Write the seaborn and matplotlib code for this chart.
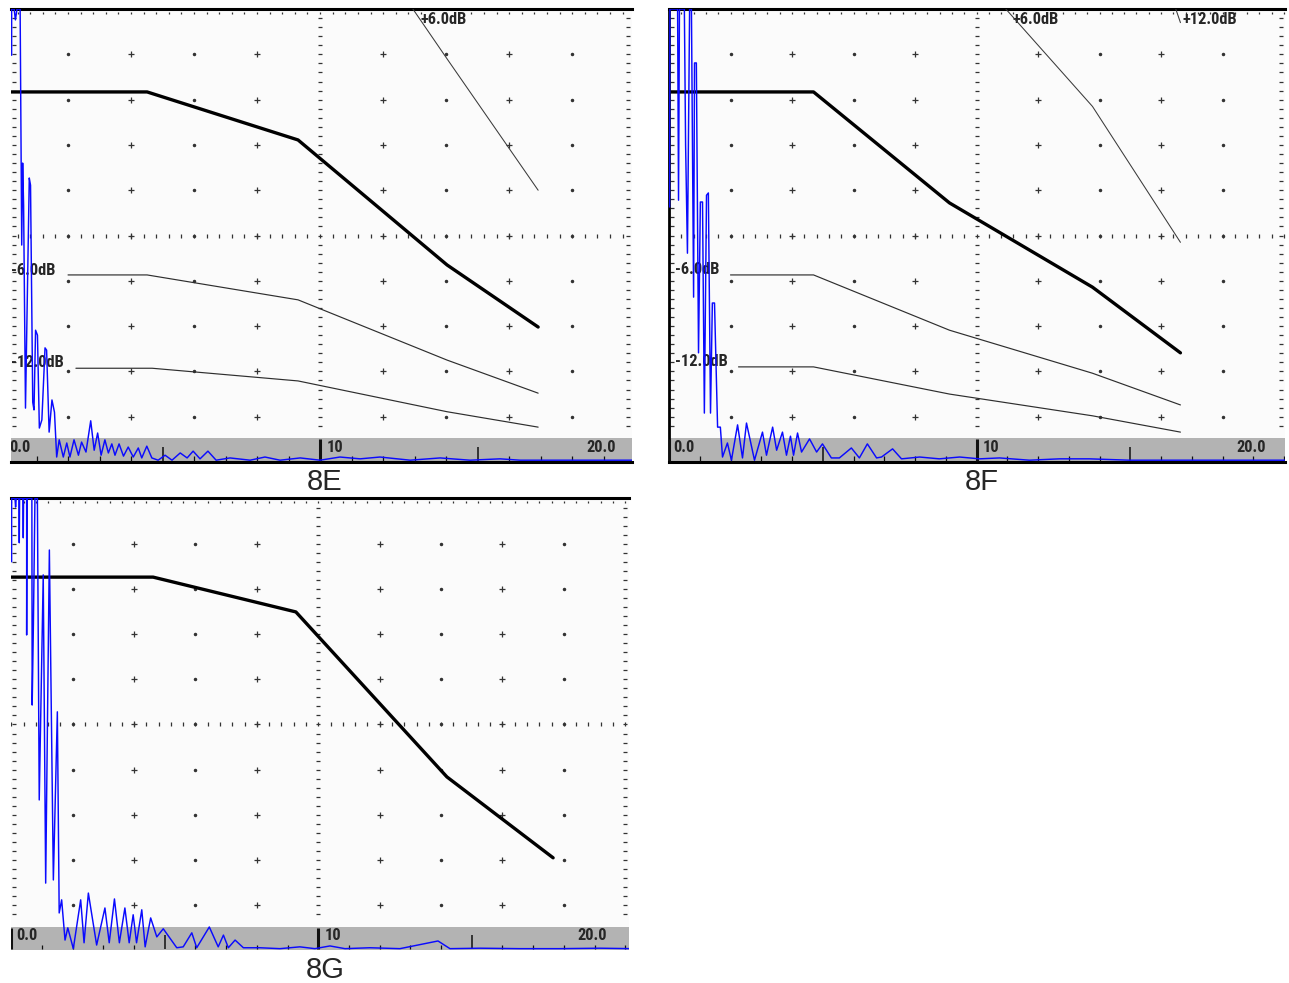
import matplotlib
matplotlib.use("Agg")
import matplotlib.pyplot as plt
import matplotlib.transforms as mtransforms
from matplotlib import font_manager as fm
import numpy as np
import seaborn as sns

sns.set_style("white")
plt.rcParams["font.family"] = ["Liberation Sans", "DejaVu Sans"]

# pick a narrow face for the instrument labels if one is installed
_fonts = fm.fontManager.ttflist
_names = {f.name for f in _fonts}
NARROW, STRETCH, LSIZE = ["DejaVu Sans"], "normal", 8.6
for cand, sz in [("Liberation Sans Narrow", 12), ("Roboto Condensed", 11.8),
                 ("Noto Sans Condensed", 11), ("Open Sans Condensed", 11)]:
    if cand in _names:
        NARROW, LSIZE = [cand, "DejaVu Sans"], sz
        break
else:
    if any(f.name == "DejaVu Sans" and f.stretch == "condensed" for f in _fonts):
        NARROW, STRETCH, LSIZE = ["DejaVu Sans"], "condensed", 9.5

# depth (mm) / amplitude (% screen height)

# ---- 8E ----
e_dac_x = [0.0, 4.51, 9.30, 14.03, 16.92]
e_dac_y = [81.7, 81.7, 71.1, 43.5, 29.8]
e_m6_x = [2.0, 4.51, 9.30, 14.03, 16.92]
e_m6_y = [41.3, 41.3, 35.8, 22.5, 15.2]
e_m12_x = [2.25, 4.67, 9.30, 14.03, 16.92]
e_m12_y = [20.7, 20.7, 17.9, 11.1, 7.7]
e_p6_x = [9.30, 14.03, 16.92]
e_p6_y = [137.0, 89.0, 60.0]
e_trace_x = [0.21, 0.21, 0.29, 0.33, 0.38, 0.48, 0.53, 0.56, 0.59, 0.65, 0.77, 0.81,
             0.88, 0.92, 0.97, 1.03, 1.09, 1.17, 1.27, 1.32, 1.40, 1.49, 1.57, 1.64,
             1.72, 1.85, 1.96, 2.06, 2.19, 2.33, 2.43, 2.57, 2.72, 2.83, 2.94, 3.05,
             3.17, 3.28, 3.39, 3.49, 3.62, 3.76, 3.91, 4.07, 4.23, 4.34, 4.50, 4.66,
             4.86, 5.08, 5.30, 5.56, 5.78, 5.97, 6.19, 6.44, 6.70, 7.14, 7.78, 8.25,
             8.73, 9.37, 10.0, 10.63, 11.27, 11.9, 12.86, 13.81, 14.76, 15.71, 16.35, 19.9]
e_trace_y = [89.8, 100, 100, 97.6, 100, 100, 47.9, 66.0, 56.7, 11.9, 62.7, 61.1,
             13.2, 11.5, 29.1, 28.0, 7.5, 9.3, 25.2, 24.7, 6.6, 13.7, 11.0, 1.1,
             4.9, 1.1, 4.2, 1.1, 4.9, 1.5, 4.4, 2.2, 9.1, 2.6, 6.4, 1.5,
             4.9, 2.0, 4.0, 1.5, 4.0, 1.3, 3.3, 1.1, 3.1, 0.9, 3.5, 0.9,
             0.4, 1.5, 0.4, 2.0, 0.9, 2.4, 0.7, 2.4, 0.4, 0.9, 0.4, 1.1,
             0.4, 0.9, 0.4, 1.1, 0.7, 1.1, 0.4, 0.9, 0.4, 0.7, 0.4, 0.4]

# ---- 8F ----
f_dac_x = [0.0, 4.70, 9.12, 13.77, 16.63]
f_dac_y = [81.7, 81.7, 57.2, 38.6, 24.1]
f_m6_x = [2.0, 4.70, 9.12, 13.77, 16.63]
f_m6_y = [41.3, 41.3, 29.1, 19.6, 12.6]
f_m12_x = [2.26, 4.70, 9.12, 13.77, 16.63]
f_m12_y = [21.0, 21.0, 15.0, 10.2, 6.6]
f_p6_x = [9.12, 13.77, 16.63]
f_p6_y = [114.0, 78.5, 48.5]
f_p12_x = [13.77, 16.63]
f_p12_y = [154.0, 97.0]
f_trace_x = [0.02, 0.03, 0.28, 0.31, 0.34, 0.50, 0.54, 0.60, 0.67, 0.73, 0.80, 0.83,
             0.89, 0.96, 1.02, 1.09, 1.15, 1.22, 1.28, 1.35, 1.41, 1.48, 1.58, 1.67,
             1.74, 1.90, 2.03, 2.23, 2.39, 2.52, 2.78, 3.04, 3.17, 3.37, 3.50, 3.69,
             3.82, 3.95, 4.05, 4.18, 4.31, 4.57, 4.80, 4.99, 5.28, 5.54, 5.93, 6.19,
             6.45, 6.75, 6.91, 7.27, 7.56, 8.15, 8.79, 9.45, 10.1, 10.75, 11.72, 12.7,
             13.67, 14.97, 20.15]
f_trace_y = [56.3, 100, 100, 57.8, 100, 100, 70.0, 46.1, 100, 100, 36.4, 88.1,
             88.1, 24.1, 57.4, 57.4, 10.8, 58.9, 59.4, 10.8, 35.1, 35.1, 7.7, 7.7,
             1.1, 4.2, 0.4, 8.2, 0.9, 8.6, 0.4, 6.6, 1.5, 7.7, 2.6, 6.6,
             1.5, 5.7, 1.5, 6.4, 2.2, 5.1, 2.2, 4.0, 0.9, 0.9, 3.1, 0.9,
             4.0, 0.9, 1.1, 2.9, 0.7, 1.1, 0.7, 1.1, 0.7, 0.9, 0.4, 0.7,
             0.7, 0.4, 0.4]

# ---- 8G ----
g_dac_x = [0.0, 4.62, 9.27, 14.19, 17.65]
g_dac_y = [82.6, 82.6, 74.9, 38.4, 20.5]
g_trace_x = [0.01, 0.01, 0.12, 0.14, 0.16, 0.25, 0.26, 0.27, 0.38, 0.39, 0.40, 0.50,
             0.50, 0.51, 0.67, 0.68, 0.72, 0.77, 0.85, 0.91, 1.04, 1.12, 1.24, 1.37,
             1.50, 1.56, 1.64, 1.75, 1.84, 2.02, 2.26, 2.37, 2.51, 2.78, 3.05, 3.19,
             3.36, 3.52, 3.70, 3.84, 3.97, 4.08, 4.25, 4.36, 4.54, 4.74, 4.95, 5.39,
             5.60, 5.88, 6.04, 6.45, 6.74, 6.91, 7.07, 7.29, 7.56, 8.10, 8.75, 9.40,
             9.89, 10.38, 10.87, 11.68, 12.66, 13.90, 14.29, 15.27, 16.57, 17.87, 19.18, 20.22]
g_trace_y = [86.0, 100, 100, 98.1, 100, 100, 90.2, 100, 100, 91.3, 100, 100,
             69.8, 100, 100, 54.3, 72.2, 100, 100, 33.3, 83.1, 14.9, 88.6, 15.6,
             52.8, 8.3, 11.2, 2.3, 5.0, 0.4, 11.2, 1.7, 12.7, 1.2, 9.4, 1.7,
             11.4, 1.7, 9.4, 1.7, 7.9, 1.7, 9.0, 0.8, 7.2, 3.0, 4.8, 0.6,
             0.8, 3.9, 0.6, 5.2, 0.8, 3.4, 0.6, 2.3, 0.6, 0.6, 0.4, 0.8,
             0.4, 1.0, 0.4, 0.6, 0.4, 2.1, 0.4, 0.5, 0.4, 0.4, 0.5, 0.4]

GRID = "#333333"
BLUE = "#0a0aff"


def draw_line(ax, xs, ys, color, lw, z):
    sns.lineplot(x=xs, y=ys, sort=False, estimator=None, color=color, lw=lw,
                 ax=ax, legend=False, zorder=z)


def label(ax, x, y, s, ha="left", z=4, clip=False):
    ax.text(x, y, s, family=NARROW, fontstretch=STRETCH, weight="bold",
            size=LSIZE, ha=ha, va="center", zorder=z, clip_on=clip)


def draw_screen(ax, xlim, bottom_border=True, left_border=False):
    ax.set_xlim(*xlim)
    ax.set_ylim(0, 100)
    ax.set_facecolor("#fbfbfb")
    ax.set_xticks([])
    ax.set_yticks([])
    for s in ax.spines.values():
        s.set_visible(False)
    ax.spines["top"].set_visible(True)
    ax.spines["top"].set_linewidth(2.2)
    ax.spines["top"].set_color("black")
    if bottom_border:
        ax.spines["bottom"].set_visible(True)
        ax.spines["bottom"].set_linewidth(2.2)
        ax.spines["bottom"].set_color("black")
    if left_border:
        ax.spines["left"].set_visible(True)
        ax.spines["left"].set_linewidth(2.0)
        ax.spines["left"].set_color("black")

    # grey scale strip at the bottom
    ax.axhspan(0, 5.2, color="#b3b3b3", lw=0, zorder=1)

    rows = np.arange(10, 100, 10)
    for cx in [2, 6, 14, 18]:
        ax.plot([cx] * len(rows), rows, ls="none", marker="o", ms=1.5,
                color=GRID, zorder=2)
    for cx in [4, 8, 12, 16]:
        ax.plot([cx] * len(rows), rows, ls="none", marker="+", ms=4.5,
                mew=0.9, color=GRID, zorder=2)
    sub = np.arange(0, 20.01, 0.4)
    ax.plot(sub, [50] * len(sub), ls="none", marker="|", ms=2.4, mew=0.9,
            color=GRID, zorder=2)
    ax.plot(sub, [99.2] * len(sub), ls="none", marker="|", ms=2.0, mew=0.9,
            color=GRID, zorder=2)
    dash_y = np.arange(8, 100, 2)
    ax.plot([10] * len(dash_y), dash_y, ls="none", marker="_", ms=2.6, mew=0.9,
            color=GRID, zorder=2)
    blend = mtransforms.blended_transform_factory(ax.transAxes, ax.transData)
    for fx in [0.005, 0.994]:
        ax.plot([fx] * len(dash_y), dash_y, ls="none", marker="_", ms=2.6,
                mew=0.9, color=GRID, transform=blend, zorder=2)

    # depth scale in the strip
    for t in range(0, 21):
        if t in (0, 10):
            ax.plot([t, t], [0.3, 5.0], color="#111111", lw=2.2,
                    solid_capstyle="butt", zorder=3)
        elif t in (5, 15):
            ax.plot([t, t], [0.3, 3.4], color="#111111", lw=1.1,
                    solid_capstyle="butt", zorder=3)
        else:
            ax.plot([t, t], [0.3, 1.3], color="#111111", lw=0.9,
                    solid_capstyle="butt", zorder=3)
    label(ax, 0.15, 3.3, "0.0", z=3, clip=True)
    label(ax, 10.2, 3.3, "10", z=3, clip=True)
    label(ax, 19.4, 3.3, "20.0", ha="right", z=3, clip=True)


fig = plt.figure(figsize=(12.89, 9.83), dpi=100)
fig.patch.set_facecolor("white")

ax_e = fig.add_axes([0.00853, 0.5300, 0.4818, 0.4608])
ax_f = fig.add_axes([0.5190, 0.5300, 0.4779, 0.4608])
ax_g = fig.add_axes([0.00853, 0.0331, 0.4794, 0.4598])

# 8E
draw_screen(ax_e, (0.19, 19.9))
draw_line(ax_e, e_dac_x, e_dac_y, "black", 2.4, 5)
draw_line(ax_e, e_m6_x, e_m6_y, "#2e2e2e", 0.85, 5)
draw_line(ax_e, e_m12_x, e_m12_y, "#2e2e2e", 0.85, 5)
draw_line(ax_e, e_p6_x, e_p6_y, "#3a3a3a", 0.75, 5)
draw_line(ax_e, e_trace_x, e_trace_y, BLUE, 1.05, 6)
label(ax_e, 13.2, 97.6, "+6.0dB")
label(ax_e, 0.2, 42.2, "-6.0dB")
label(ax_e, 0.2, 21.9, "-12.0dB")

# 8F
draw_screen(ax_f, (0.0, 20.03), left_border=True)
draw_line(ax_f, f_dac_x, f_dac_y, "black", 2.4, 5)
draw_line(ax_f, f_m6_x, f_m6_y, "#2e2e2e", 0.85, 5)
draw_line(ax_f, f_m12_x, f_m12_y, "#2e2e2e", 0.85, 5)
draw_line(ax_f, f_p6_x, f_p6_y, "#3a3a3a", 0.75, 5)
draw_line(ax_f, f_p12_x, f_p12_y, "#3a3a3a", 0.75, 5)
draw_line(ax_f, f_trace_x, f_trace_y, BLUE, 1.05, 6)
label(ax_f, 11.17, 97.6, "+6.0dB")
label(ax_f, 16.70, 97.6, "+12.0dB")
label(ax_f, 0.21, 42.4, "-6.0dB")
label(ax_f, 0.21, 22.1, "-12.0dB")

# 8G
draw_screen(ax_g, (-0.01, 20.12), bottom_border=False)
draw_line(ax_g, g_dac_x, g_dac_y, "black", 2.4, 5)
draw_line(ax_g, g_trace_x, g_trace_y, BLUE, 1.05, 6)

for ax in (ax_e, ax_f, ax_g):
    ax.set_xlabel("")
    ax.set_ylabel("")

fig.text(0.2521, 0.5097, "8E", ha="center", va="center", size=21)
fig.text(0.7618, 0.5097, "8F", ha="center", va="center", size=21)
fig.text(0.2521, 0.0132, "8G", ha="center", va="center", size=21)

fig.savefig("out.png", dpi=100)
